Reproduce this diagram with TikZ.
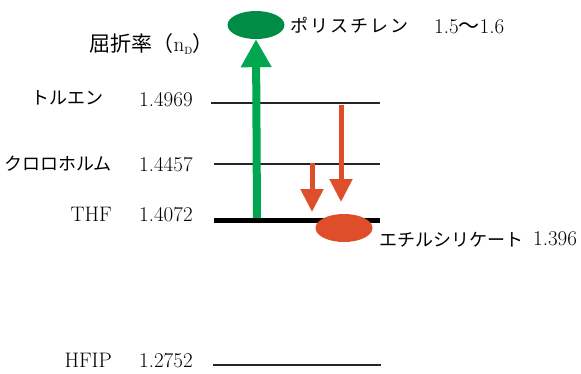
\documentclass[tikz,border=0pt]{standalone}
\usepackage{fontspec}
\newfontfamily\cjk{Noto Sans CJK JP}
\usetikzlibrary{shapes.geometric,arrows.meta}
\definecolor{gdark}{RGB}{0,140,68}
\definecolor{garrow}{RGB}{0,166,80}
\definecolor{ored}{RGB}{222,78,42}
\begin{document}
\begin{tikzpicture}[x=1pt,y=-1pt,
 level/.style={line width=1.6pt, draw=black!85},
 thflevel/.style={line width=5pt, draw=black},
 lbl/.style={anchor=base east, inner sep=0, font=\fontsize{18}{20}\selectfont\cjk},
 rlbl/.style={anchor=base west, inner sep=0, font=\fontsize{18}{20}\selectfont\cjk},
 num/.style={anchor=base west, inner sep=0, font=\fontsize{21}{24}\selectfont},
 solvname/.style={anchor=base east, inner sep=0, font=\fontsize{21}{24}\selectfont},
 blob/.style={ellipse, minimum width=57pt, minimum height=28pt, inner sep=0},
 uparrow/.style={draw=garrow, line width=8pt, -{Triangle[width=29pt,length=28pt]}},
 downarrow/.style={draw=ored, line width=5pt, -{Triangle[width=22pt,length=23pt]}}]
\useasboundingbox (0,0) rectangle (581,373);
% title
\node[anchor=base east, inner sep=0, font=\fontsize{21}{24}\selectfont] (title) at (214,51)
  {{\cjk 屈折率（}n$_{\mathrm{\scriptscriptstyle D}}${\cjk ）}};
% level lines
\coordinate (tolL) at (211,103); \coordinate (tolR) at (380,103);
\coordinate (chlL) at (214,164); \coordinate (chlR) at (380,164);
\coordinate (thfL) at (214,220); \coordinate (thfR) at (380,220);
\coordinate (hfiL) at (213,365); \coordinate (hfiR) at (381,365);
\draw[level] (tolL) -- (tolR);
\draw[level] (chlL) -- (chlR);
\draw[level] (hfiL) -- (hfiR);
% labels
\node[lbl] (tol) at (104,104) {トルエン};
\node[num] (tolv) at (139,106) {1.4969};
\node[lbl] (chl) at (112,170) {クロロホルム};
\node[num] (chlv) at (139,171) {1.4457};
\node[solvname] (thf) at (112,221) {THF};
\node[num] (thfv) at (139,221) {1.4072};
\node[solvname] (hfi) at (112,367) {HFIP};
\node[num] (hfiv) at (139,367) {1.2752};
% green arrow and polystyrene
\node[blob, fill=gdark] (ps) at (256,25) {};
\coordinate (gstart) at (257,218);
\draw[uparrow] (gstart) -- (ps.south);
\draw[thflevel] (thfL) -- (thfR);
\node[rlbl] (psl) at (290,32) {\addfontfeature{LetterSpace=11}ポリスチレン};
\node[num] (psv) at (434,33) {1.5{\cjk ～}1.6};
% red arrows and ethyl silicate
\coordinate (r1s) at (312,163);
\coordinate (r1e) at (312,212);
\coordinate (r2s) at (341,105);
\coordinate (r2e) at (341,202);
\draw[downarrow] (r1s) -- (r1e);
\draw[downarrow] (r2s) -- (r2e);
\node[blob, fill=ored] (es) at (344,228) {};
\node[rlbl] (esl) at (379,246) {エチルシリケート};
\node[num] (esv) at (533,245) {1.396};
\end{tikzpicture}
\end{document}
